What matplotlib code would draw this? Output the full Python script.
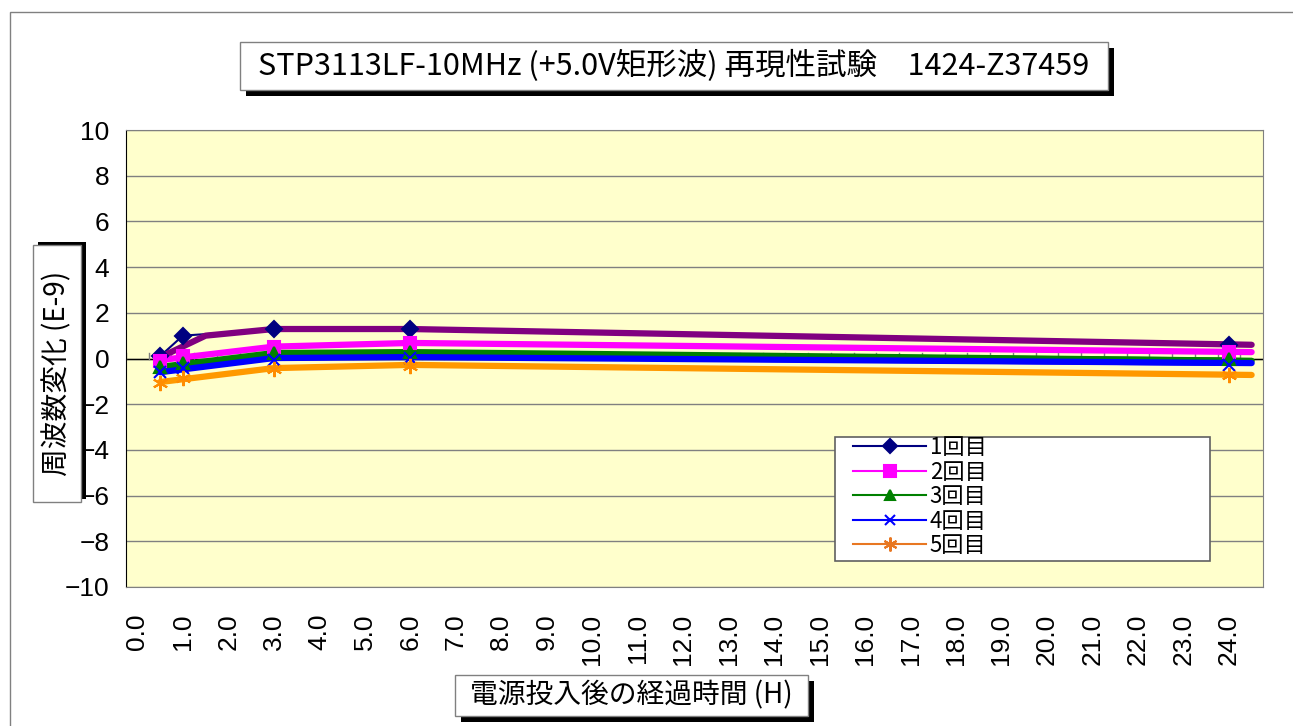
import matplotlib
matplotlib.use("Agg")
import matplotlib.pyplot as plt
from matplotlib.patches import Rectangle
from matplotlib.lines import Line2D

plt.rcParams['font.family'] = ['Noto Sans CJK JP', 'DejaVu Sans']

# elapsed hours where measurements were taken
hours = [0.5, 1.0, 3.0, 6.0, 24.0]
run1 = [0.1, 1.0, 1.27, 1.29, 0.6]
run2 = [-0.1, 0.1, 0.5, 0.66, 0.28]
run3 = [-0.37, -0.2, 0.26, 0.3, 0.0]
run4 = [-0.6, -0.4, -0.05, 0.02, -0.28]
run5 = [-1.07, -0.85, -0.48, -0.33, -0.72]
labels = ['1回目', '2回目', '3回目', '4回目', '5回目']

# thick connecting lines
trend_x1 = [0.5, 1.5, 3.0, 6.0, 24.5]
trend1 = [0.05, 1.0, 1.29, 1.29, 0.6]
trend_x = [0.5, 3.0, 6.0, 24.5]
trend2 = [-0.07, 0.52, 0.68, 0.28]
trend3 = [-0.37, 0.24, 0.28, -0.1]
trend4 = [-0.6, 0.02, 0.06, -0.2]
trend5 = [-1.03, -0.42, -0.28, -0.72]

xticks = [float(i) for i in range(25)]

W, H = 1293, 726
fig = plt.figure(figsize=(W / 100, H / 100), dpi=100)

def fx(px):
    return px / W

def fy(py):
    return 1 - py / H

# outer chart border
fig.patches.append(Rectangle((fx(10), fy(740)), fx(1300) - fx(10), fy(12) - fy(740),
                             transform=fig.transFigure, fill=False, ec='#808080', lw=1))

ax = fig.add_axes([fx(126), fy(587), fx(1263) - fx(126), fy(130) - fy(587)])
ax.set_facecolor('#FFFFCC')
ax.set_xlim(-0.25, 24.75)
ax.set_ylim(-10, 10)
ax.set_yticks(range(-10, 11, 2))
ax.yaxis.grid(True, color='#808080', lw=1)
ax.set_axisbelow(True)
for s in ['top', 'right', 'bottom']:
    ax.spines[s].set_color('#808080')
ax.spines['left'].set_color('black')
ax.tick_params(axis='y', length=0, pad=12, labelsize=19)
ax.tick_params(axis='x', length=0, pad=19, labelsize=19)
ax.set_xticks(xticks)
ax.set_xticklabels([f"{v:.1f}" for v in xticks], rotation=90)
for t in ax.get_xticklabels() + ax.get_yticklabels():
    t.set_fontfamily(['Liberation Sans', 'DejaVu Sans'])

# zero axis line with small ticks
ax.axhline(0, color='black', lw=1, zorder=2)
for k in range(50):
    ax.plot([-0.25 + 0.5 * k] * 2, [0, 0.25], color='#808080', lw=1, zorder=2)

# thin series lines
colors = ['#000080', '#FF00FF', '#008000', '#0000FF', '#FF8C00']
runs = [run1, run2, run3, run4, run5]
for r, c in zip(runs, colors):
    ax.plot(hours, r, color=c, lw=1.5, zorder=3)

# thick lines
ax.plot(trend_x1, trend1, color='#800080', lw=4.5, zorder=4, solid_capstyle='round')
for tr, c in zip([trend2, trend3, trend4, trend5], ['#FF00FF', '#008000', '#0000FF', '#FF9900']):
    ax.plot(trend_x, tr, color=c, lw=4.5, zorder=4, solid_capstyle='round')

# markers
marks = ['D', 's', '^', 'x', (6, 2, 0)]
sizes = [8, 9, 8, 8, 11]
for r, c, m, s in zip(runs, colors, marks, sizes):
    ax.plot(hours, r, ls='none', marker=m, color=c, ms=s, mew=1.5, zorder=5)

# legend: own frame, entries inset from the left edge
lx0, lx1, ly0, ly1 = 835, 1210, 437, 561
frame = Rectangle((fx(lx0), fy(ly1)), fx(lx1) - fx(lx0), fy(ly0) - fy(ly1),
                  transform=fig.transFigure, fc='white', ec='#606060', lw=1.2, zorder=9)
fig.patches.append(frame)
leg_colors = ['#000080', '#FF00FF', '#008000', '#0000FF', '#E87722']
handles = [Line2D([], [], color=c, lw=1.5, marker=m, ms=s - 1, mew=1.5)
           for c, m, s in zip(leg_colors, marks, sizes)]
leg = fig.legend(handles, labels, loc='upper left',
                 bbox_to_anchor=(fx(lx0 + 18), fy(ly0 - 1)),
                 fontsize=16, frameon=False, borderpad=0, labelspacing=0.07,
                 handlelength=3.3, handletextpad=0.15, borderaxespad=0)
leg.set_zorder(10)

def boxed(text, x0, y0, x1, y1, dx, dy, size, rotation=0):
    fig.patches.append(Rectangle((fx(x0 + dx), fy(y1 + dy)), fx(x1) - fx(x0), fy(y0) - fy(y1),
                                 transform=fig.transFigure, fc='black', ec='none', zorder=20))
    fig.patches.append(Rectangle((fx(x0), fy(y1)), fx(x1) - fx(x0), fy(y0) - fy(y1),
                                 transform=fig.transFigure, fc='white', ec='#808080', lw=1, zorder=21))
    fig.text(fx((x0 + x1) / 2), fy((y0 + y1) / 2), text, ha='center', va='center',
             fontsize=size, rotation=rotation, zorder=22)

boxed('STP3113LF-10MHz (+5.0V矩形波) 再現性試験　1424-Z37459', 240, 42, 1108, 90, 6, 6, 22)
boxed('周波数変化 (E-9)', 33, 245, 81, 502, 5, -3, 20, rotation=90)
boxed('電源投入後の経過時間 (H)', 455, 675, 808, 716, 6, 6, 20)

fig.savefig('out.png', dpi=100)
